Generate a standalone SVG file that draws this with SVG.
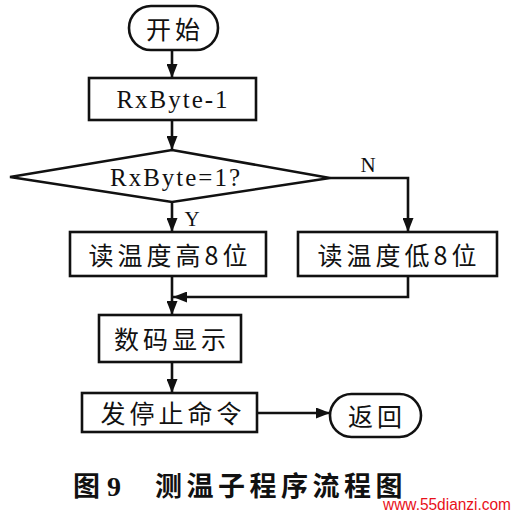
<svg xmlns="http://www.w3.org/2000/svg" width="518" height="517" viewBox="0 0 518 517">
<defs>
<marker id="ah" markerUnits="userSpaceOnUse" markerWidth="14" markerHeight="11" refX="14" refY="5.5" orient="auto"><path d="M0,0 L14,5.5 L0,11 z" fill="#111"/></marker>
<style>
.shape{fill:#fff;stroke:#111;stroke-width:2.6}
.conn{fill:none;stroke:#111;stroke-width:2.6}
.cn{font-family:"Noto Sans CJK SC","Noto Sans",sans-serif;font-size:25px;fill:#111;letter-spacing:4px;text-anchor:middle;dominant-baseline:central}
.lat{font-family:"Liberation Serif",serif;font-size:25px;fill:#111;letter-spacing:2px;text-anchor:middle;dominant-baseline:central}
.lbl{font-family:"Liberation Serif",serif;font-size:21px;fill:#111;text-anchor:middle}
</style>
</defs>
<rect width="518" height="517" fill="#fff"/>
<g id="connectors">
<path class="conn" d="M172,50 V78" marker-end="url(#ah)"/>
<path class="conn" d="M172,120 V150" marker-end="url(#ah)"/>
<path class="conn" d="M172,202 V232" marker-end="url(#ah)"/>
<path class="conn" d="M330,178 H408 V232" marker-end="url(#ah)"/>
<path class="conn" d="M408,276 V297 H173" marker-end="url(#ah)"/>
<path class="conn" d="M172,276 V315" marker-end="url(#ah)"/>
<path class="conn" d="M172,362 V393" marker-end="url(#ah)"/>
<path class="conn" d="M257,413 H330" marker-end="url(#ah)"/>
<text class="lbl" x="368" y="172">N</text>
<text class="lbl" x="192" y="226">Y</text>
</g>
<g id="start"><rect class="shape" x="129" y="6" width="89" height="44" rx="22"/><text class="cn" x="175" y="28">开始</text></g>
<g id="dec1"><rect class="shape" x="89" y="78" width="167" height="42"/><text class="lat" x="173" y="99">RxByte-1</text></g>
<g id="cond"><polygon class="shape" points="172,150 330,178 172,202 10,177"/><text class="lat" x="176" y="177">RxByte=1?</text></g>
<g id="readHigh"><rect class="shape" x="70" y="232" width="196" height="44"/><text class="cn" x="170" y="254">读温度高8位</text></g>
<g id="readLow"><rect class="shape" x="298" y="232" width="199" height="44"/><text class="cn" x="399" y="254">读温度低8位</text></g>
<g id="display"><rect class="shape" x="99" y="315" width="142" height="47"/><text class="cn" x="172" y="338">数码显示</text></g>
<g id="stop"><rect class="shape" x="82" y="393" width="175" height="39"/><text class="cn" x="173" y="412">发停止命令</text></g>
<g id="ret"><rect class="shape" x="330" y="394" width="91" height="43" rx="21.5"/><text class="cn" x="377" y="415">返回</text></g>
<g id="caption">
<text x="73" y="496" style="font-family:'Noto Sans CJK SC',sans-serif;font-size:27px;font-weight:bold;fill:#111">图</text>
<text x="107" y="496" style="font-family:'Liberation Serif',serif;font-size:28px;font-weight:bold;fill:#111">9</text>
<text x="155" y="496" style="font-family:'Noto Sans CJK SC',sans-serif;font-size:27px;font-weight:bold;fill:#111;letter-spacing:4.5px">测温子程序流程图</text>
<text x="383" y="510" textLength="128" lengthAdjust="spacingAndGlyphs" style="font-family:'Liberation Sans',sans-serif;font-size:16px;fill:#e8101a">www.55dianzi.com</text>
</g>
</svg>
